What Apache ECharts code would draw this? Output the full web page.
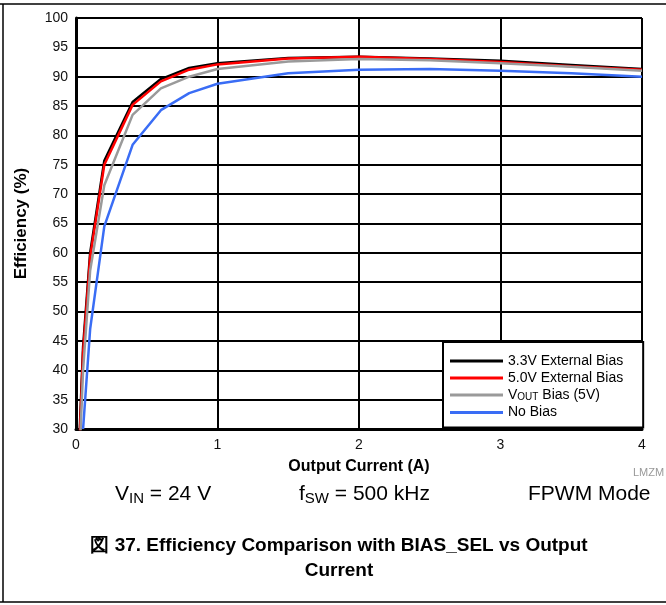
<!DOCTYPE html>
<html>
<head>
<meta charset="utf-8">
<script src="https://cdn.jsdelivr.net/npm/echarts@6/dist/echarts.min.js"></script>
<style>
html,body{margin:0;padding:0;background:#fff;}
#chart{width:666px;height:605px;}
</style>
</head>
<body>
<div id="chart"></div>
<script>
// Data
var xCurrent = [0.01, 0.05, 0.1, 0.2, 0.4, 0.6, 0.8, 1, 1.5, 2, 2.5, 3, 3.5, 4];
var bias33 = [20, 44, 60, 75.7, 85.7, 89.6, 91.5, 92.3, 93.2, 93.4, 93.1, 92.7, 92.0, 91.3];
var bias50 = [19, 43, 59.3, 75.0, 85.2, 89.2, 91.2, 92.1, 93.1, 93.4, 93.0, 92.5, 91.8, 91.2];
var biasVout = [17, 40, 57, 71.5, 83.5, 88.0, 90.0, 91.3, 92.6, 93.0, 92.8, 92.3, 91.7, 91.0];
var xNoBias = [0.05, 0.1, 0.2, 0.4, 0.6, 0.8, 1, 1.5, 2, 2.5, 3, 3.5, 4];
var noBias = [30, 47, 64.5, 78.4, 84.3, 87.2, 88.8, 90.6, 91.2, 91.3, 91.0, 90.6, 90.0];
var seriesNames = ['3.3V External Bias', '5.0V External Bias', 'VOUT Bias (5V)', 'No Bias'];

function pairs(xs, ys) { return xs.map(function (x, i) { return [x, ys[i]]; }); }

var FONT = 'Liberation Sans, Arial, sans-serif';
var chart = echarts.init(document.getElementById('chart'), null, {renderer: 'canvas'});
var colors = ['#000000', '#ff0000', '#9a9a9a', '#3a6df5'];
var datasets = [pairs(xCurrent, bias33), pairs(xCurrent, bias50), pairs(xCurrent, biasVout), pairs(xNoBias, noBias)];

chart.setOption({
  animation: false,
  backgroundColor: '#ffffff',
  textStyle: {fontFamily: FONT},
  grid: {left: 76, top: 18, right: 24, bottom: 176, containLabel: false, outerBoundsMode: 'none'},
  xAxis: {
    type: 'value', min: 0, max: 4, interval: 1,
    name: 'Output Current (A)', nameLocation: 'middle', nameGap: 30,
    nameTextStyle: {fontFamily: FONT, fontSize: 16, fontWeight: 'bold', color: '#000'},
    axisLine: {show: true, lineStyle: {color: '#000', width: 3}},
    axisTick: {show: false},
    axisLabel: {fontFamily: FONT, fontSize: 14, color: '#111', margin: 9},
    splitLine: {show: true, lineStyle: {color: '#000', width: 2}}
  },
  yAxis: {
    type: 'value', min: 30, max: 100, interval: 5,
    name: 'Efficiency (%)', nameLocation: 'middle', nameGap: 46, nameRotate: 90,
    nameTextStyle: {fontFamily: FONT, fontSize: 17, fontWeight: 'bold', color: '#000'},
    axisLine: {show: true, lineStyle: {color: '#000', width: 3}},
    axisTick: {show: false},
    axisLabel: {fontFamily: FONT, fontSize: 14, color: '#111', margin: 8},
    splitLine: {show: true, lineStyle: {color: '#000', width: 2}}
  },
  legend: {
    orient: 'vertical', left: 443, top: 342,
    backgroundColor: '#fff', borderColor: '#000', borderWidth: 2,
    padding: [12, 20, 8, 7], itemGap: 3,
    itemWidth: 53, itemHeight: 3, icon: 'rect',
    textStyle: {fontFamily: FONT, fontSize: 14, color: '#000',
      rich: {a: {fontFamily: FONT, fontSize: 14, color: '#000'},
             s: {fontFamily: FONT, fontSize: 10, color: '#000', verticalAlign: 'bottom', padding: [5, 0, 0, 0]}}},
    formatter: function (n) {
      if (n === 'VOUT Bias (5V)') return '{a|V}{s|OUT}{a| Bias (5V)}';
      return n;
    },
    data: seriesNames
  },
  series: datasets.map(function (d, i) {
    return {
      name: seriesNames[i], type: 'line', data: d, symbol: 'none', clip: true,
      lineStyle: {color: colors[i], width: 2.5}, itemStyle: {color: colors[i]}, z: 3 + i
    };
  }),
  graphic: [
    {type: 'line', shape: {x1: 0, y1: 4, x2: 666, y2: 4}, style: {stroke: '#000', lineWidth: 1.5}},
    {type: 'line', shape: {x1: 3, y1: 4, x2: 3, y2: 602}, style: {stroke: '#000', lineWidth: 1.5}},
    {type: 'line', shape: {x1: 0, y1: 602, x2: 666, y2: 602}, style: {stroke: '#000', lineWidth: 1.5}},
    {type: 'text', left: 633, top: 467, style: {text: 'LMZM', font: '11px ' + FONT, fill: '#999'}},
    {type: 'text', left: 115, top: 484, style: {
      text: '{a|V}{s|IN}{a| = 24 V}',
      rich: {a: {font: '21px ' + FONT, fill: '#000'}, s: {font: '15px ' + FONT, fill: '#000', padding: [9, 0, 0, 0]}}
    }},
    {type: 'text', left: 299, top: 484, style: {
      text: '{a|f}{s|SW}{a| = 500 kHz}',
      rich: {a: {font: '21px ' + FONT, fill: '#000'}, s: {font: '15px ' + FONT, fill: '#000', padding: [9, 0, 0, 0]}}
    }},
    {type: 'text', left: 528, top: 484, style: {text: 'FPWM Mode', font: '21px ' + FONT, fill: '#000'}},
    {type: 'text', x: 339, y: 533, style: {
      text: '図 37. Efficiency Comparison with BIAS_SEL vs Output\nCurrent',
      font: 'bold 19px ' + FONT, fill: '#000', align: 'center', verticalAlign: 'top', lineHeight: 25
    }}
  ]
});
</script>
</body>
</html>
